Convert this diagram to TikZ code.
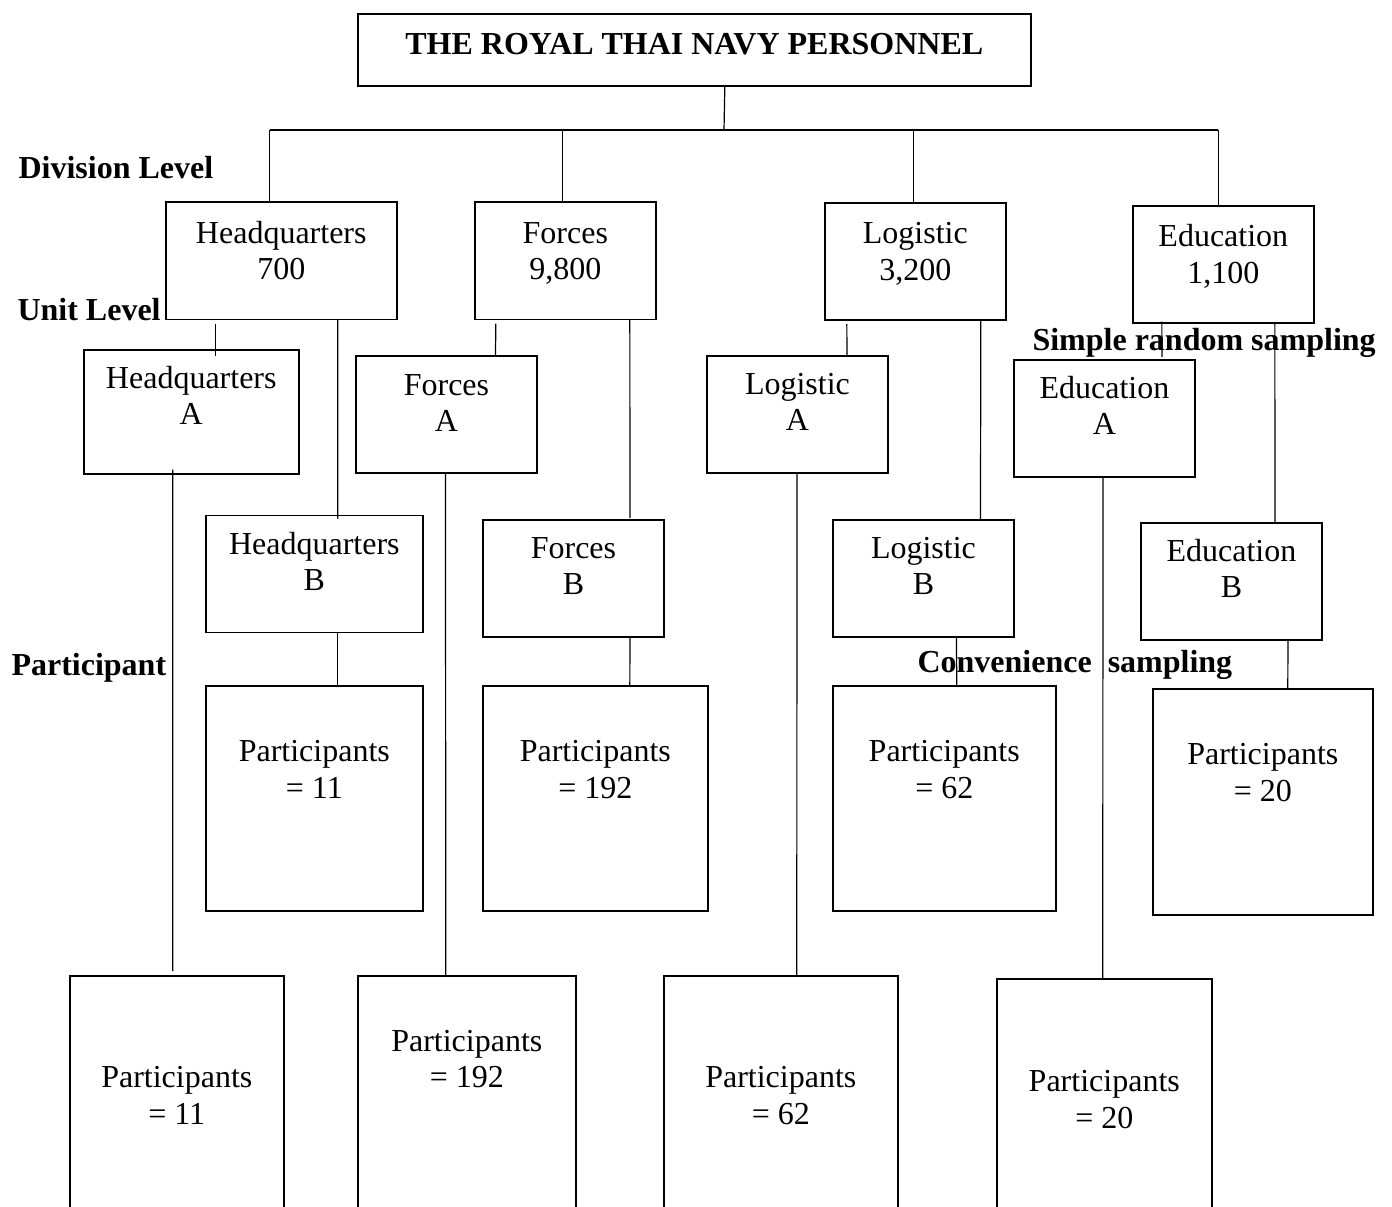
\documentclass[tikz,border=0pt]{standalone}
\usepackage{fontspec}
\setmainfont{Liberation Serif}
\usetikzlibrary{calc}
\newcommand{\boxfont}{\fontsize{12pt}{13.6pt}\selectfont}

\begin{document}
\begin{tikzpicture}[
    x=0.375pt, y=-0.375pt,
    box/.style={rectangle, draw=black, line width=0.6pt, inner sep=0pt, anchor=north west, align=center, font=\boxfont},
    toptitle/.style={box, font=\boxfont\bfseries, minimum width=252.4pt, text height=15.1pt, text depth=11.9pt},
    division/.style={box, text height=29pt, text depth=14.9pt},
    unit/.style={box, minimum width=68pt, text height=28.2pt, text depth=15.65pt},
    tally/.style={box, text height=42.1pt, text depth=42.3pt},
    tallyfar/.style={box, text height=55.6pt, text depth=43.8pt},
    level/.style={anchor=base west, inner sep=0pt, font=\boxfont\bfseries},
    link/.style={draw=black, line width=0.45pt}
]
    \useasboundingbox (0,0) rectangle (1392,1207);
    \clip (0,0) rectangle (1392,1207);

    % --- Top ---
    \node [toptitle] (title) at (357,13) {THE ROYAL THAI NAVY PERSONNEL};

    % --- Division level ---
    \node [division, minimum width=86.6pt] (hq) at (165,201.5) {Headquarters\\700};
    \node [division, minimum width=67.9pt] (forces) at (474,201.5) {Forces\\9,800};
    \node [division, minimum width=67.9pt] (logi) at (824,202) {Logistic\\3,200};
    \node [division, minimum width=67.9pt] (edu) at (1132,205) {Education\\1,100};

    % --- Unit level ---
    \node [unit, minimum width=80.6pt, text depth=18.3pt] (hqa) at (83,349) {Headquarters\\A};
    \node [unit, minimum width=81.4pt] (hqb) at (205,514.7) {Headquarters\\B};
    \node [unit] (fa) at (355,355.3) {Forces\\A};
    \node [unit] (fb) at (482,519) {Forces\\B};
    \node [unit] (la) at (706,355) {Logistic\\A};
    \node [unit] (lb) at (832,519) {Logistic\\B};
    \node [unit] (ea) at (1013,359) {Education\\A};
    \node [unit] (eb) at (1140,522) {Education\\B};

    % --- Participants ---
    \node [tally, minimum width=81.4pt] (phqb) at (205,685) {Participants\\= 11};
    \node [tally, minimum width=84.4pt] (pfb) at (482,685) {Participants\\= 192};
    \node [tally, minimum width=83.6pt] (plb) at (832,685) {Participants\\= 62};
    \node [tally, minimum width=82.5pt, text depth=42.65pt] (peb) at (1152,688) {Participants\\= 20};

    \node [tallyfar, minimum width=80.25pt] (phqa) at (69,975) {Participants\\= 11};
    \node [tally, minimum width=81.75pt, text height=41.9pt, text depth=57.5pt] (pfa) at (357,975) {Participants\\= 192};
    \node [tallyfar, minimum width=87.75pt] (pla) at (663,975) {Participants\\= 62};
    \node [tallyfar, minimum width=80.6pt, text height=56pt, text depth=42.3pt] (pea) at (996,978) {Participants\\= 20};

    % --- Level labels ---
    \node [level] (divlevel) at (18,179) {Division Level};
    \node [level] (unitlevel) at (17,321) {Unit Level};
    \node [level] (partlevel) at (11,676) {Participant};
    \node [level] (srs) at (1032,351) {Simple random sampling};
    \node [level] (conv) at (917,673) {Convenience\ \ sampling};

    % --- Connections ---
    % Personnel to divisions
    \coordinate (bus) at (724,130);
    \draw [link] ($(title.south)+(30.5,0)$) -- (bus);
    \draw [link] ($(hq.north)+(-11.5,-71.5)$) -- ($(edu.north)+(-5,-75)$);
    \foreach \dv/\dx/\dy in {hq/-11.5/71.5, forces/-2.5/71.5, logi/-2/72, edu/-5/75}
        \draw [link] ($(\dv.north)+(\dx,-\dy)$) -- ($(\dv.north)+(\dx,0)$);

    % Divisions to units
    \draw [link] ($(hq.south)+(-65.5,3.5)$) -- ($(hqa.north)+(24.5,7)$);
    \draw [link] ($(hq.south)+(56.5,0)$) -- ($(hqb.north)+(23.5,4)$);
    \draw [link] ($(forces.south)+(-69.5,3.5)$) -- ($(fa.north)+(49,1)$);
    \draw [link] ($(forces.south)+(64.5,0)$) -- ($(fb.north)+(56.5,-1)$);
    \draw [link] ($(logi.south)+(-68.5,3.5)$) -- ($(la.north)+(49.5,0)$);
    \draw [link] ($(logi.south)+(65.5,0)$) -- ($(lb.north)+(57,0)$);
    \draw [link] ($(edu.south)+(-61.5,-2)$) -- ($(ea.north)+(57.5,-2)$);
    \draw [link] ($(edu.south)+(51.5,0)$) -- ($(eb.north)+(43.5,0)$);

    % Units to participants
    \draw [link] ($(hqa.south)+(-18.5,-5)$) -- ($(phqa.north)+(-4,-4)$);
    \draw [link] ($(hqb.south)+(23.5,0)$) -- ($(phqb.north)+(23.5,0)$);
    \draw [link] ($(fa.south)+(-1,0)$) -- ($(pfa.north)+(-21,0)$);
    \draw [link] ($(fb.south)+(56.5,0)$) -- ($(pfb.north)+(34.5,0)$);
    \draw [link] ($(la.south)+(-0.5,0)$) -- ($(pla.north)+(16,0)$);
    \draw [link] ($(lb.south)+(33,0)$) -- ($(plb.north)+(12.5,2)$);
    \draw [link] ($(ea.south)+(-1.5,0)$) -- ($(pea.north)+(-1.5,0)$);
    \draw [link] ($(eb.south)+(56.5,0)$) -- ($(peb.north)+(25,0)$);

\end{tikzpicture}
\end{document}
